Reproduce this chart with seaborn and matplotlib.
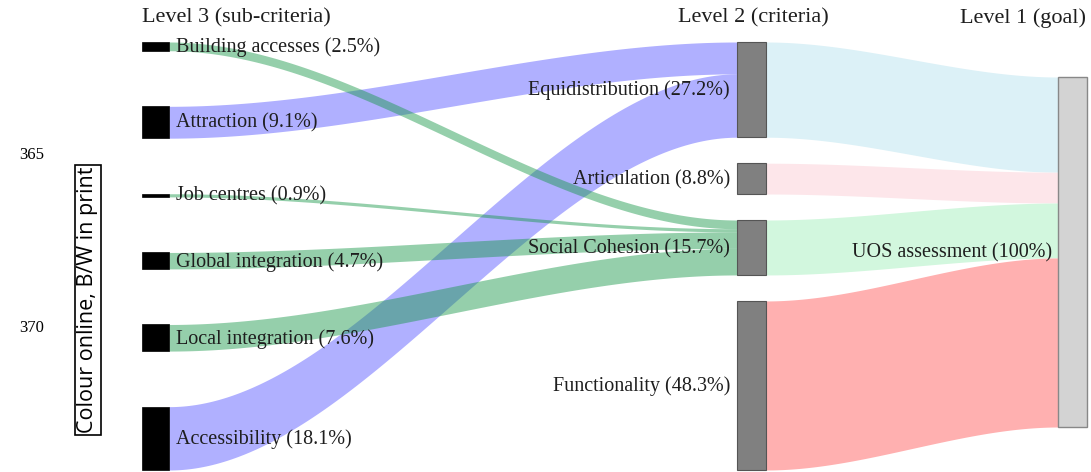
import numpy as np
import matplotlib
matplotlib.use("Agg")
import matplotlib.pyplot as plt
import seaborn as sns

# Data: three-level hierarchy (sub-criteria -> criteria -> goal), weights in %
level3_names = ["Building accesses", "Attraction", "Job centres",
                "Global integration", "Local integration", "Accessibility"]
level3_weights = [2.5, 9.1, 0.9, 4.7, 7.6, 18.1]
level3_parent = ["Social Cohesion", "Equidistribution", "Social Cohesion",
                 "Social Cohesion", "Social Cohesion", "Equidistribution"]

level2_names = ["Equidistribution", "Articulation", "Social Cohesion", "Functionality"]
level2_weights = [27.2, 8.8, 15.7, 48.3]

goal_name = "UOS assessment"
goal_weight = 100

column_titles = ["Level 3 (sub-criteria)", "Level 2 (criteria)", "Level 1 (goal)"]

# Styling
sub_flow_colors = {"Equidistribution": ("#5050ff", 0.45),
                   "Social Cohesion": ("#149646", 0.45)}
crit_flow_colors = {"Equidistribution": "#dcf1f7", "Articulation": "#fde6ea",
                    "Social Cohesion": "#d2f7de", "Functionality": "#ffb0b0"}

sns.set_theme(style="white")
plt.rcParams['font.family'] = ['Liberation Serif', 'DejaVu Serif']

fig = plt.figure(figsize=(10.91, 4.72), dpi=100)
ax = fig.add_axes([0, 0, 1, 1])
ax.set_xlim(0, 1091)
ax.set_ylim(472, 0)
ax.axis("off")

# Layout (pixel space)
top, bottom = 42, 470
k = 3.5  # px per percent
col_x = [(142, 169), (737, 766), (1058, 1087)]
goal_center = 252


def stack(weights):
    heights = [w * k for w in weights]
    gap = (bottom - top - sum(heights)) / (len(weights) - 1)
    pos, y = [], top
    for h in heights:
        pos.append((y, y + h))
        y += h + gap
    return pos


def band(xa, xb, ya0, ya1, yb0, yb1, color, alpha=1.0, z=1):
    x = np.linspace(xa, xb, 200)
    t = (x - xa) / (xb - xa)
    s = 3 * t ** 2 - 2 * t ** 3
    ax.fill_between(x, ya0 + (yb0 - ya0) * s, ya1 + (yb1 - ya1) * s,
                    color=color, alpha=alpha, lw=0, zorder=z)


pos3 = stack(level3_weights)
pos2 = stack(level2_weights)
gh = goal_weight * k
pos1 = (goal_center - gh / 2, goal_center + gh / 2)

# Flows level 3 -> level 2 (stacked at target in source order)
offsets = {n: pos2[i][0] for i, n in enumerate(level2_names)}
order = ["Equidistribution", "Social Cohesion"]
for parent in order:
    for i, name in enumerate(level3_names):
        if level3_parent[i] != parent:
            continue
        h = level3_weights[i] * k
        y0 = offsets[parent]
        offsets[parent] += h
        c, a = sub_flow_colors[parent]
        band(col_x[0][1], col_x[1][0], pos3[i][0], pos3[i][1], y0, y0 + h,
             c, a, z=1 if parent == "Equidistribution" else 2)

# Flows level 2 -> goal
yg = pos1[0]
for i, name in enumerate(level2_names):
    h = level2_weights[i] * k
    band(col_x[1][1], col_x[2][0], pos2[i][0], pos2[i][1], yg, yg + h,
         crit_flow_colors[name], 1.0, z=1)
    yg += h

# Nodes
for (y0, y1) in pos3:
    ax.bar((col_x[0][0] + col_x[0][1]) / 2, y1 - y0, bottom=y0,
           width=col_x[0][1] - col_x[0][0], color="black", edgecolor="black",
           lw=0.5, zorder=3)
for (y0, y1) in pos2:
    ax.bar((col_x[1][0] + col_x[1][1]) / 2, y1 - y0, bottom=y0,
           width=col_x[1][1] - col_x[1][0], color="#808080", edgecolor="#555555",
           lw=0.8, zorder=3)
ax.bar((col_x[2][0] + col_x[2][1]) / 2, gh, bottom=pos1[0],
       width=col_x[2][1] - col_x[2][0], color="#d3d3d3", edgecolor="#888888",
       lw=1.0, zorder=3)

# Labels
fs = 14.5
tc = "#1e1e1e"
for i, name in enumerate(level3_names):
    ax.text(col_x[0][1] + 7, sum(pos3[i]) / 2 + 1, f"{name} ({level3_weights[i]}%)",
            ha="left", va="center", fontsize=fs, color=tc, zorder=4)
for i, name in enumerate(level2_names):
    ax.text(col_x[1][0] - 7, sum(pos2[i]) / 2 + 1, f"{name} ({level2_weights[i]}%)",
            ha="right", va="center", fontsize=fs, color=tc, zorder=4)
ax.text(col_x[2][0] - 6, goal_center + 1, f"{goal_name} ({goal_weight}%)",
        ha="right", va="center", fontsize=fs, color=tc, zorder=4)

tfs = 16
ax.text(142, 18, column_titles[0], ha="left", va="center", fontsize=tfs, color=tc)
ax.text(753, 18, column_titles[1], ha="center", va="center", fontsize=tfs, color=tc)
ax.text(1086, 18, column_titles[2], ha="right", va="center", fontsize=tfs, color=tc)

# Page margin annotations
ax.text(32, 155, "365", ha="center", va="center", fontsize=12, color="black")
ax.text(32, 328, "370", ha="center", va="center", fontsize=12, color="black")
ax.text(88, 300, "Colour online, B/W in print", rotation=90, ha="center",
        va="center", fontsize=15.5, family=["Open Sans", "DejaVu Sans"],
        color="black",
        bbox=dict(boxstyle="square,pad=0.1", fc="white", ec="black", lw=1.2))

fig.savefig("out.png", dpi=100)
